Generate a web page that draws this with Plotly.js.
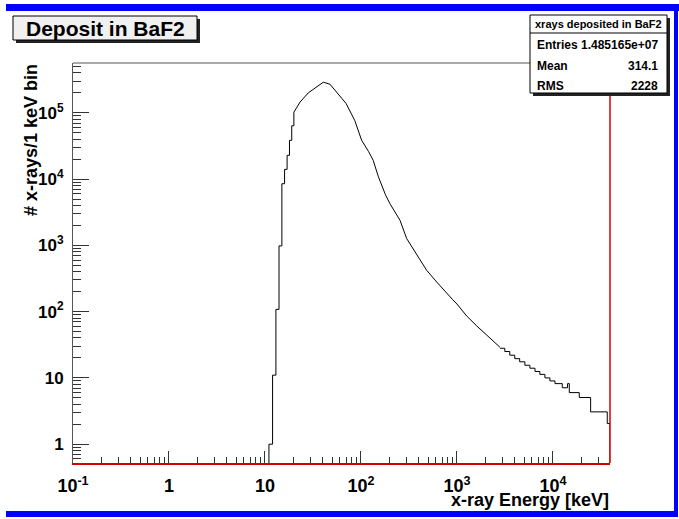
<!DOCTYPE html>
<html>
<head>
<meta charset="utf-8">
<script src="https://cdn.plot.ly/plotly-3.0.1.min.js"></script>
<style>html,body{margin:0;padding:0;background:#fff;}#chart{width:679px;height:519px;}</style>
</head>
<body>
<div id="chart"></div>
<script>
// ---- data (x-ray energy in keV, counts per 1 keV bin) ----
// rising edge: bin lower edges and contents (first value = empty bin)
const lowEdgeKeV = [10, 11, 12, 13, 14, 15, 16, 17, 18, 19, 20];
const lowCounts  = [0.001, 1, 11, 108, 980, 8500, 14000, 22800, 38400, 63700, 102000];
// smooth central part of the spectrum
const midKeV    = [20, 23.2, 28.3, 34.5, 40.5, 47.5, 56, 70, 86, 101.6, 120, 134, 152, 180, 200, 236, 255, 299, 395, 483, 615, 781, 900, 1000, 1165, 1262, 1603, 1738, 2208, 2806];
const midCounts = [102000, 145000, 200000, 243000, 289000, 270000, 202000, 138000, 77000, 38500, 26000, 19200, 10800, 5800, 4270, 2880, 2390, 1270, 668, 421, 280, 187, 152, 130, 100, 86, 61, 55, 40, 29];
// high-energy tail: bin lower edges and contents (last value = empty)
const highEdgeKeV = [2806, 3150, 3550, 4000, 4500, 5100, 5750, 6500, 7300, 8250, 9300, 10500, 12500, 14200, 14800, 18800, 24700, 36800, 39300];
const highCounts  = [28, 25, 22, 19.5, 17.5, 15.5, 14, 12.5, 11.3, 10, 9, 8.2, 7.1, 8.2, 6.0, 5.06, 3.07, 2.05, 0.001];

const xTickVals = [0.1, 1, 10, 100, 1000, 10000];
const xTickText = ['10<sup>-1</sup>', '1', '10', '10<sup>2</sup>', '10<sup>3</sup>', '10<sup>4</sup>'];
const yTickVals = [1, 10, 100, 1000, 10000, 100000];
const yTickText = ['1', '10', '10<sup>2</sup>', '10<sup>3</sup>', '10<sup>4</sup>', '10<sup>5</sup>'];

const titleText = 'Deposit in BaF2';
const statsTitle = 'xrays deposited in BaF2';
const statsNames = ['Entries', 'Mean', 'RMS'];
const statsValues = ['1.485165e+07', '314.1', '2228'];
const xTitle = 'x-ray Energy [keV]';
const yTitle = '# x-rays/1 keV bin';

// ---- layout helpers (pixel -> paper) ----
const L = 73, R = 610, T = 63, B = 463;
const W = R - L, H = B - T;
const px = x => (x - L) / W;
const py = y => (B - y) / H;
const FONT = 'Liberation Sans, Arial, Helvetica, sans-serif';

function rect(x0, y0, x1, y1, fill, lineColor, lw) {
  return {type: 'rect', xref: 'paper', yref: 'paper', x0: px(x0), x1: px(x1), y0: py(y0), y1: py(y1),
          fillcolor: fill, line: {color: lineColor || fill, width: lineColor ? (lw || 1) : 0}, layer: 'above'};
}
function line(x0, y0, x1, y1, color, w) {
  return {type: 'line', xref: 'paper', yref: 'paper', x0: px(x0), x1: px(x1), y0: py(y0), y1: py(y1),
          line: {color: color, width: w || 1}, layer: 'above'};
}

const lineStyle = {color: '#000000', width: 1};
const traces = [
  {x: lowEdgeKeV, y: lowCounts, mode: 'lines', line: Object.assign({shape: 'hv'}, lineStyle), hoverinfo: 'skip', showlegend: false},
  {x: midKeV, y: midCounts, mode: 'lines', line: Object.assign({shape: 'linear'}, lineStyle), hoverinfo: 'skip', showlegend: false},
  {x: highEdgeKeV, y: highCounts, mode: 'lines', line: Object.assign({shape: 'hv'}, lineStyle), hoverinfo: 'skip', showlegend: false}
];

const shapes = [
  // frame top and right
  line(L, T, R, T, '#555555', 1),
  line(R, T, R, B, '#d40000', 1.5),
  // blue canvas border
  rect(6, 4, 679, 11, '#0000ff'),
  rect(674, 4, 678, 517, '#0000ff'),
  rect(6, 511, 678, 517, '#0000ff'),
  // title box with shadow
  rect(16, 19, 200, 43, '#222222'),
  rect(13, 16, 197, 40, '#f0f0f0', '#000000', 1),
  // stats box with shadow
  rect(533, 18, 670, 96, '#222222'),
  rect(530, 15, 667, 93, '#ffffff', '#000000', 1),
  line(530, 33, 667, 33, '#000000', 1)
];

const annotations = [
  {text: titleText, x: px(105), y: py(28), xanchor: 'center', yanchor: 'middle',
   font: {family: FONT, size: 21, weight: 'bold', color: '#000'}},
  {text: statsTitle, x: px(598.5), y: py(24), xanchor: 'center', yanchor: 'middle',
   font: {family: FONT, size: 11, weight: 'bold', color: '#000'}},
  {text: xTitle, x: px(611), y: py(500), xanchor: 'right', yanchor: 'middle',
   font: {family: FONT, size: 18, weight: 'bold', color: '#000'}},
  {text: yTitle, textangle: -90, x: px(31), y: py(62), xanchor: 'center', yanchor: 'top',
   font: {family: FONT, size: 18, weight: 'bold', color: '#000'}}
];
const rowY = [45, 66, 86];
statsNames.forEach((n, i) => {
  annotations.push({text: n, x: px(535), y: py(rowY[i]), xanchor: 'left', yanchor: 'middle',
    font: {family: FONT, size: 12, weight: 'bold', color: '#000'}});
  annotations.push({text: statsValues[i], x: px(660), y: py(rowY[i]), xanchor: 'right', yanchor: 'middle',
    font: {family: FONT, size: 12, weight: 'bold', color: '#000'}});
});
annotations.forEach(a => { a.xref = 'paper'; a.yref = 'paper'; a.showarrow = false; });

const layout = {
  width: 679, height: 519,
  margin: {l: L, r: 679 - R, t: T, b: 519 - B, pad: 0},
  paper_bgcolor: '#ffffff', plot_bgcolor: '#ffffff',
  showlegend: false,
  xaxis: {
    type: 'log', range: [-1, Math.log10(39300)],
    tickmode: 'array', tickvals: xTickVals, ticktext: xTickText,
    ticks: 'inside', ticklen: 12, tickwidth: 1, tickcolor: '#333333',
    minor: {ticks: 'inside', ticklen: 6, tickwidth: 1, tickcolor: '#333333', dtick: 'D1', showgrid: false},
    showline: true, linecolor: '#d40000', linewidth: 1.5,
    showgrid: false, zeroline: false,
    tickfont: {family: FONT, size: 18, weight: 'bold', color: '#000'},
    ticklabelstandoff: 6
  },
  yaxis: {
    type: 'log', range: [Math.log10(0.52), 5.751],
    tickmode: 'array', tickvals: yTickVals, ticktext: yTickText,
    ticks: 'inside', ticklen: 16, tickwidth: 1, tickcolor: '#333333',
    minor: {ticks: 'inside', ticklen: 8, tickwidth: 1, tickcolor: '#333333', dtick: 'D1', showgrid: false},
    showline: true, linecolor: '#555555', linewidth: 1,
    showgrid: false, zeroline: false,
    tickfont: {family: FONT, size: 17, weight: 'bold', color: '#000'},
    ticklabelstandoff: 5
  },
  shapes: shapes,
  annotations: annotations
};

Plotly.newPlot('chart', traces, layout, {staticPlot: true, displayModeBar: false});
</script>
</body>
</html>
